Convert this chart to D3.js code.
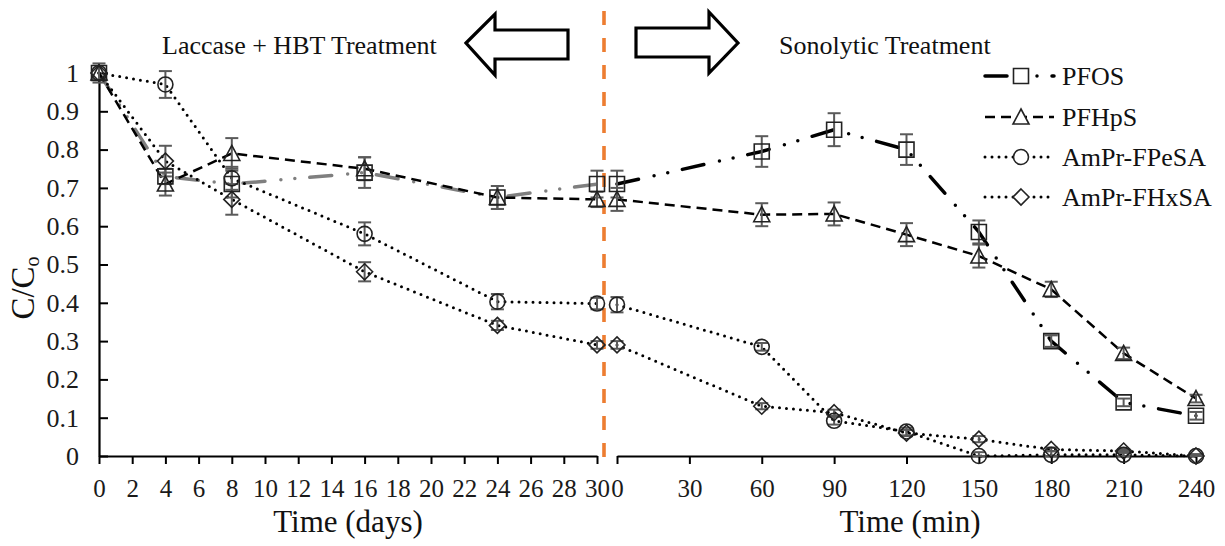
<!DOCTYPE html>
<html>
<head>
<meta charset="utf-8">
<script src="https://cdn.jsdelivr.net/npm/d3@7"></script>
<style>
  body { margin: 0; background: #fff; }
  svg { display: block; font-family: "Liberation Serif", "Times New Roman", serif; }
</style>
</head>
<body>
<svg id="chart" width="1225" height="546"></svg>
<script>
// ---------- data ----------
const days = [0, 4, 8, 16, 24, 30];
const minutes = [0, 60, 90, 120, 150, 180, 210, 240];
const seriesNames = ["PFOS", "PFHpS", "AmPr-FPeSA", "AmPr-FHxSA"];

const pfosDays   = [1.0, 0.73, 0.71, 0.74, 0.675, 0.71];
const pfhpsDays  = [1.0, 0.71, 0.79, 0.75, 0.675, 0.67];
const fpesaDays  = [1.0, 0.97, 0.725, 0.58, 0.403, 0.398];
const fhxsaDays  = [1.0, 0.77, 0.67, 0.481, 0.341, 0.29];
const pfosDaysErr  = [0.0, 0.02, 0.035, 0.04, 0.03, 0.035];
const pfhpsDaysErr = [0.0, 0.03, 0.04, 0.03, 0.03, 0.02];
const fpesaDaysErr = [0.025, 0.035, 0.03, 0.03, 0.02, 0.015];
const fhxsaDaysErr = [0.0, 0.04, 0.04, 0.025, 0.012, 0.01];

const pfosMin   = [0.71, 0.795, 0.852, 0.80, 0.585, 0.30, 0.14, 0.105];
const pfhpsMin  = [0.67, 0.63, 0.632, 0.578, 0.522, 0.435, 0.268, 0.15];
const fpesaMin  = [0.395, 0.285, 0.092, 0.064, 0.0, 0.003, 0.003, 0.0];
const fhxsaMin  = [0.29, 0.13, 0.113, 0.06, 0.044, 0.017, 0.013, 0.0];
const pfosMinErr  = [0.035, 0.04, 0.043, 0.04, 0.03, 0.015, 0.01, 0.01];
const pfhpsMinErr = [0.03, 0.03, 0.03, 0.03, 0.03, 0.02, 0.015, 0.01];
const fpesaMinErr = [0.02, 0.01, 0.01, 0.01, 0.01, 0.01, 0.01, 0.005];
const fhxsaMinErr = [0.01, 0.008, 0.008, 0.008, 0.008, 0.005, 0.005, 0.003];

const yTicks = [0, 0.1, 0.2, 0.3, 0.4, 0.5, 0.6, 0.7, 0.8, 0.9, 1];
const dayTicks = [0, 2, 4, 6, 8, 10, 12, 14, 16, 18, 20, 22, 24, 26, 28, 30];
const minTicks = [0, 30, 60, 90, 120, 150, 180, 210, 240];

const leftTitle = "Laccase + HBT Treatment";
const rightTitle = "Sonolytic Treatment";
const xTitleDays = "Time (days)";
const xTitleMin = "Time (min)";

// ---------- setup ----------
const svg = d3.select("#chart");
const xL = d3.scaleLinear().domain([0, 30]).range([99, 597]);
const xR = d3.scaleLinear().domain([0, 240]).range([617, 1196]);
const y = d3.scaleLinear().domain([0, 1]).range([456, 73]);

const styles = {
  "PFOS":       { dash: "22 16 0 14 0 15", width: 3.5, cap: "round", marker: "square" },
  "PFHpS":      { dash: "10 6", width: 2.5, cap: "butt", marker: "triangle" },
  "AmPr-FPeSA": { dash: "0 7", width: 3, cap: "round", marker: "circle" },
  "AmPr-FHxSA": { dash: "0 7", width: 3, cap: "round", marker: "diamond" }
};

function markerPath(type) {
  const p = d3.path();
  if (type === "square") { p.rect(-7.5, -7.5, 15, 15); }
  else if (type === "triangle") { p.moveTo(0, -8); p.lineTo(8, 7); p.lineTo(-8, 7); p.closePath(); }
  else if (type === "circle") { p.arc(0, 0, 7.5, 0, 2 * Math.PI); p.closePath(); }
  else { p.moveTo(0, -8); p.lineTo(8, 0); p.lineTo(0, 8); p.lineTo(-8, 0); p.closePath(); }
  return p.toString();
}

// ---------- axes ----------
const gY = svg.append("g").attr("transform", "translate(99,0)")
  .call(d3.axisLeft(y).tickValues(yTicks).tickSizeInner(-9).tickSizeOuter(0).tickPadding(20)
    .tickFormat(d => (d === 0 || d === 1) ? String(d) : d.toFixed(1)));
const gXL = svg.append("g").attr("transform", "translate(0,456)")
  .call(d3.axisBottom(xL).tickValues(dayTicks).tickSizeInner(8).tickSizeOuter(0).tickPadding(15));
const gXR = svg.append("g").attr("transform", "translate(0,456)")
  .call(d3.axisBottom(xR).tickValues(minTicks).tickSizeInner(8).tickSizeOuter(0).tickPadding(15));

[gY, gXL, gXR].forEach(g => {
  g.selectAll("path.domain").attr("stroke", "#000").attr("stroke-width", 2.2);
  g.selectAll(".tick line").attr("stroke", "#000").attr("stroke-width", 2);
  g.selectAll(".tick text").attr("fill", "#1a1a1a")
    .style("font-family", "'Liberation Serif', serif");
});
gY.selectAll(".tick text").style("font-size", "26px");
gXL.selectAll(".tick text").style("font-size", "25px");
gXR.selectAll(".tick text").style("font-size", "25px");

// ---------- orange divider ----------
svg.append("line").attr("x1", 604).attr("x2", 604).attr("y1", 11).attr("y2", 467)
  .attr("stroke", "#ED7D31").attr("stroke-width", 3.6).attr("stroke-dasharray", "14 13");

// ---------- series ----------
const panels = [
  { x: xL, t: days, data: [pfosDays, pfhpsDays, fpesaDays, fhxsaDays],
    err: [pfosDaysErr, pfhpsDaysErr, fpesaDaysErr, fhxsaDaysErr], pfosColor: "#7f7f7f" },
  { x: xR, t: minutes, data: [pfosMin, pfhpsMin, fpesaMin, fhxsaMin],
    err: [pfosMinErr, pfhpsMinErr, fpesaMinErr, fhxsaMinErr], pfosColor: "#000" }
];

panels.forEach(panel => {
  seriesNames.forEach((name, si) => {
    const st = styles[name];
    const pts = panel.t.map((t, i) => ({ t, v: panel.data[si][i], e: panel.err[si][i] }));
    const line = d3.line().x(d => panel.x(d.t)).y(d => y(d.v));
    svg.append("path").datum(pts).attr("d", line)
      .attr("fill", "none")
      .attr("stroke", si === 0 ? panel.pfosColor : "#000")
      .attr("stroke-width", st.width)
      .attr("stroke-linecap", st.cap)
      .attr("stroke-dasharray", st.dash);
  });
});

panels.forEach(panel => {
  seriesNames.forEach((name, si) => {
    const pts = panel.t.map((t, i) => ({ t, v: panel.data[si][i], e: panel.err[si][i] }));
    const g = svg.append("g").attr("stroke", "#5a5a5a").attr("stroke-width", 2);
    pts.filter(d => d.e > 0).forEach(d => {
      const cx = panel.x(d.t), y1 = y(d.v + d.e), y2 = y(Math.max(0, d.v - d.e));
      g.append("line").attr("x1", cx).attr("x2", cx).attr("y1", y1).attr("y2", y2);
      g.append("line").attr("x1", cx - 6.5).attr("x2", cx + 6.5).attr("y1", y1).attr("y2", y1);
      g.append("line").attr("x1", cx - 6.5).attr("x2", cx + 6.5).attr("y1", y2).attr("y2", y2);
    });
  });
});

panels.forEach(panel => {
  seriesNames.forEach((name, si) => {
    const st = styles[name];
    const pts = panel.t.map((t, i) => ({ t, v: panel.data[si][i] }));
    svg.append("g").selectAll("path").data(pts).join("path")
      .attr("d", markerPath(st.marker))
      .attr("transform", d => `translate(${panel.x(d.t)},${y(d.v)})`)
      .attr("fill", "none").attr("stroke", "#222").attr("stroke-width", 1.6);
  });
});

// ---------- legend ----------
const legY = [76, 117, 157, 197];
seriesNames.forEach((name, i) => {
  const st = styles[name];
  const g = svg.append("g").attr("transform", `translate(0,${legY[i]})`);
  g.append("line").attr("x1", 985).attr("x2", 1054).attr("y1", 0).attr("y2", 0)
    .attr("stroke", "#000").attr("stroke-width", st.width)
    .attr("stroke-linecap", st.cap).attr("stroke-dasharray", st.dash);
  g.append("path").attr("d", markerPath(st.marker)).attr("transform", "translate(1021,0)")
    .attr("fill", "#fff").attr("stroke", "#222").attr("stroke-width", 1.6);
  g.append("text").attr("x", 1062).attr("y", 0).attr("dy", "0.35em")
    .style("font-size", "26px").attr("fill", "#111").text(name);
});

// ---------- arrows and titles ----------
svg.append("path")
  .attr("d", "M466,43 L495,14 L495,30 L568,30 L568,59 L495,59 L495,75 Z")
  .attr("fill", "#fff").attr("stroke", "#000").attr("stroke-width", 3.2).attr("stroke-linejoin", "miter");
svg.append("path")
  .attr("d", "M636,28 L709,28 L709,12 L738,43 L709,73 L709,57 L636,57 Z")
  .attr("fill", "#fff").attr("stroke", "#000").attr("stroke-width", 3.2).attr("stroke-linejoin", "miter");

svg.append("text").attr("x", 162).attr("y", 54).style("font-size", "26px").attr("fill", "#111").text(leftTitle);
svg.append("text").attr("x", 779).attr("y", 54).style("font-size", "26px").attr("fill", "#111").text(rightTitle);

// ---------- axis titles ----------
svg.append("text").attr("x", 348).attr("y", 532).attr("text-anchor", "middle")
  .style("font-size", "31px").attr("fill", "#111").text(xTitleDays);
svg.append("text").attr("x", 910).attr("y", 532).attr("text-anchor", "middle")
  .style("font-size", "31px").attr("fill", "#111").text(xTitleMin);

const yl = svg.append("text").attr("transform", "translate(34,288) rotate(-90)")
  .attr("text-anchor", "middle").style("font-size", "33px").attr("fill", "#111");
yl.append("tspan").text("C/C");
yl.append("tspan").attr("dy", "0.25em").style("font-size", "20px").text("o");
</script>
</body>
</html>
